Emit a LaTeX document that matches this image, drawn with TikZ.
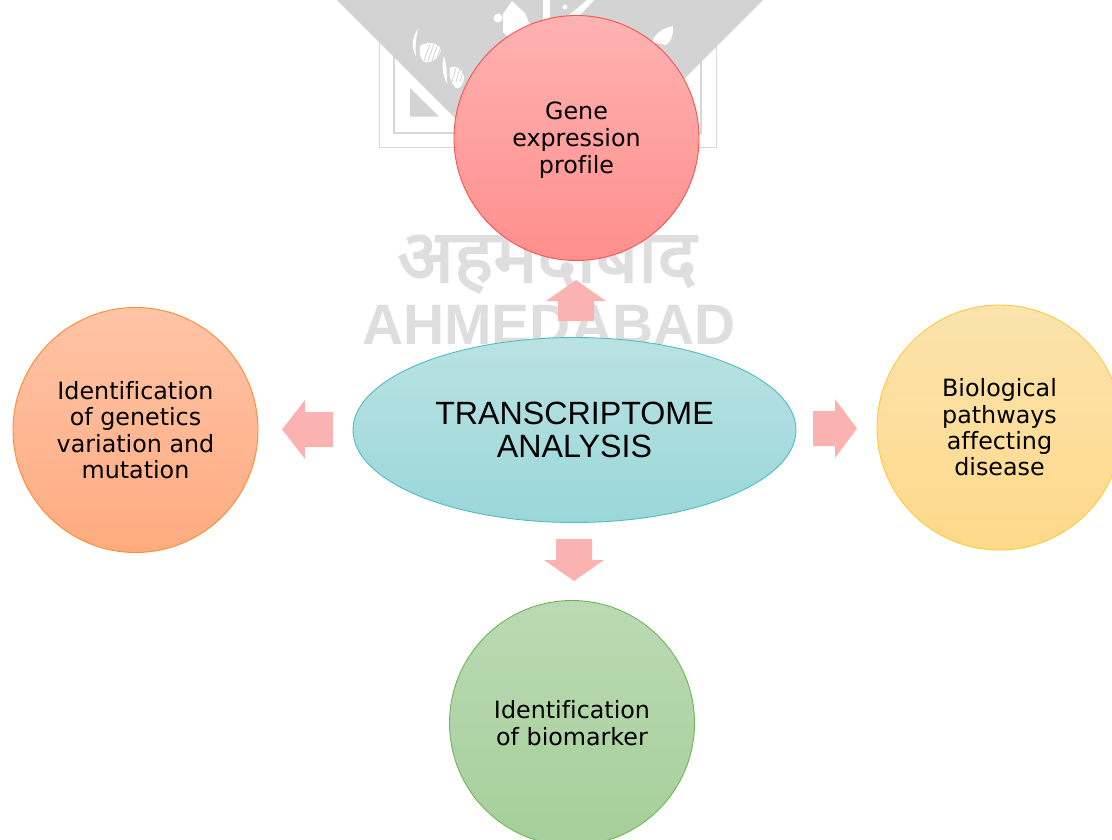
\documentclass[tikz,border=0pt]{standalone}
\usetikzlibrary{shapes.geometric}
\usepackage{fontspec}
\setmainfont[Ligatures=NoCommon]{DejaVu Sans}
\newfontfamily\arialf{Liberation Sans}
\newfontfamily\devaf[Script=Devanagari,FakeBold=2.5]{Noto Sans}
\definecolor{wm}{HTML}{D3D3D3}
\definecolor{wmt}{HTML}{DEDEDE}
\definecolor{arrowpink}{HTML}{FBB3B1}
\definecolor{geneT}{HTML}{FFB2B2}\definecolor{geneB}{HTML}{FF8F8D}\definecolor{geneL}{HTML}{F8524C}
\definecolor{idenT}{HTML}{FFC4A6}\definecolor{idenB}{HTML}{FFAB80}\definecolor{idenL}{HTML}{FF8A30}
\definecolor{bioT}{HTML}{FBE3AC}\definecolor{bioB}{HTML}{FFD98B}\definecolor{bioL}{HTML}{FFC93A}
\definecolor{markT}{HTML}{BBDAB4}\definecolor{markB}{HTML}{A5CF98}\definecolor{markL}{HTML}{72B35A}
\definecolor{coreT}{HTML}{BAE2E3}\definecolor{coreB}{HTML}{9AD7D9}\definecolor{coreL}{HTML}{4FBDBD}
\tikzset{
  bubble/.style={circle,minimum size=245pt,inner sep=0pt,align=center,line width=0.9pt,font=\fontsize{23.8}{26.3}\selectfont},
  blockarrow/.style={fill=arrowpink,draw=none},
  frameline/.style={draw=wm!90!white,line width=1.8pt}
}
\begin{document}
\begin{tikzpicture}[x=1pt,y=-1pt]
\useasboundingbox (0,0) rectangle (1112,839);
% watermark
\draw[frameline] (379.5,40) -- (379.5,147.5) -- (716.5,147.5) -- (716.5,40);
\draw[frameline] (394,50) -- (394,133) -- (701,133) -- (701,50);
\fill[wm] (337,0) -- (763,0) -- (550,213) -- cycle;
\fill[wm] (410,88) -- (439,116.5) -- (410,116.5) -- cycle;
% white details of the emblem
\fill[white] (498,18) circle (4.5pt);
\fill[white] (503,32) -- (503,14) -- (512,1) -- (525,13) -- (532,30) -- (515,45) -- cycle;
\fill[white] (543,0) -- (550,0) -- (550,20) -- (543,20) -- cycle;
\fill[white] (587,0) -- (594,0) -- (574,22) -- (568,16) -- cycle;
\fill[white] (565,7) circle (2.5pt);
\fill[white] (652,42) .. controls (656,32) and (664,28) .. (673,26) .. controls (674,36) and (670,42) .. (666,45) -- cycle;
\fill[white] (418,29) .. controls (411,38) and (412,50) .. (416,56) .. controls (415,46) and (416,38) .. (418,29) -- cycle;
\fill[white] (444,56) .. controls (441,66) and (443,76) .. (447,84) .. controls (447,74) and (447,66) .. (444,56) -- cycle;
\fill[white] (420,46) .. controls (430,40) and (440,44) .. (441,50) .. controls (440,58) and (430,64) .. (424,62) .. controls (420,58) and (419,52) .. (420,46) -- cycle;
\fill[white] (450,68) .. controls (456,64) and (463,70) .. (464,76) .. controls (464,84) and (460,90) .. (456,88) .. controls (451,84) and (449,76) .. (450,68) -- cycle;
\foreach \a in {0,1,2,3,4} {
  \draw[wm,line width=0.8pt] ({424+4*\a},61) -- ({430+4*\a},44);
}
\foreach \a in {0,1,2} {
  \draw[wm,line width=0.8pt] ({452+4*\a},82) -- ({456+4*\a},68);
}
\node[wmt,font=\devaf\fontsize{74}{78}\selectfont,inner sep=0pt] (wmhindi) at (547,264) {अहमदाबाद};
\node[wmt,font=\arialf\bfseries\fontsize{57}{60}\selectfont,inner sep=0pt] (wmcity) at (549,325) {AHMEDABAD};
% arrows
\fill[blockarrow] (558,321) -- (594,321) -- (594,301) -- (606,301) -- (576,280) -- (546,301) -- (558,301) -- cycle;
\fill[blockarrow] (333,412) -- (333,447) -- (305,447) -- (305,459) -- (282,429.5) -- (305,400) -- (305,412) -- cycle;
\fill[blockarrow] (813,411) -- (813,446) -- (835,446) -- (835,458) -- (857,428.5) -- (835,399) -- (835,411) -- cycle;
\fill[blockarrow] (556,539) -- (592,539) -- (592,560) -- (604,560) -- (574,581) -- (544,560) -- (556,560) -- cycle;
% nodes
\node[bubble,draw=geneL,top color=geneT,bottom color=geneB,font=\fontsize{23.8}{27}\selectfont] (gene) at (576.5,138) {\rule{0pt}{22pt}Gene\\expression\\profile};
\node[bubble,draw=idenL,top color=idenT,bottom color=idenB] (ident) at (135.5,430) {Identification\\of genetics\\variation and\\mutation};
\node[bubble,draw=bioL,top color=bioT,bottom color=bioB] (bio) at (999.5,427.5) {Biological\\pathways\\affecting\\disease};
\node[bubble,draw=markL,top color=markT,bottom color=markB] (mark) at (572,723) {Identification\\of biomarker};
\node[ellipse,draw=coreL,line width=0.9pt,minimum width=443pt,minimum height=185pt,inner sep=0pt,align=center,top color=coreT,bottom color=coreB,font=\arialf\fontsize{32.2}{33.5}\selectfont] (core) at (574.5,430) {TRANSCRIPTOME\\ANALYSIS};
\end{tikzpicture}
\end{document}
